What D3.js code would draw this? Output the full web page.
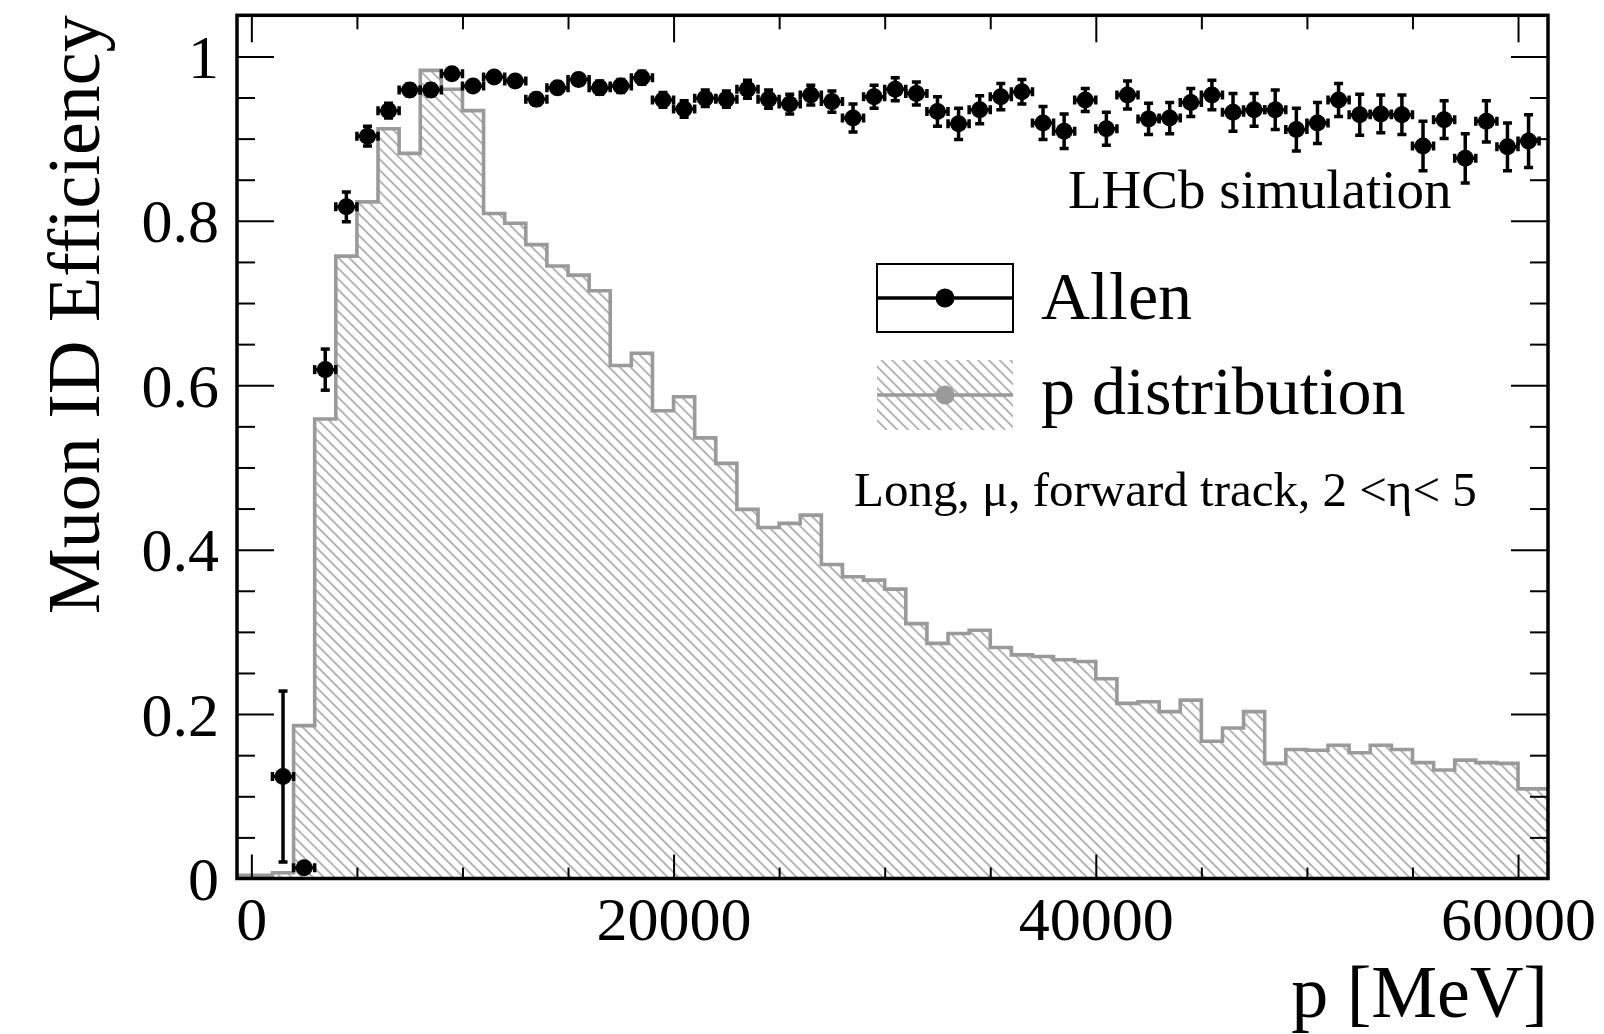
<!DOCTYPE html>
<html><head><meta charset="utf-8">
<script src="https://cdn.jsdelivr.net/npm/d3@7"></script>
<style>
html,body{margin:0;padding:0;background:#fff;}
svg{display:block;}
text{font-family:"Liberation Serif","Times New Roman",serif;fill:#000;}
</style></head><body>
<svg id="chart" width="1604" height="1034"></svg>
<script>
// ---------------- data ----------------
const binLowEdges = [-1000, 0, 1000, 2000, 3000, 4000, 5000, 6000, 7000, 8000, 9000,
  10000, 11000, 12000, 13000, 14000, 15000, 16000, 17000, 18000, 19000,
  20000, 21000, 22000, 23000, 24000, 25000, 26000, 27000, 28000, 29000,
  30000, 31000, 32000, 33000, 34000, 35000, 36000, 37000, 38000, 39000,
  40000, 41000, 42000, 43000, 44000, 45000, 46000, 47000, 48000, 49000,
  50000, 51000, 52000, 53000, 54000, 55000, 56000, 57000, 58000, 59000,
  60000, 61000];
const binWidth = 1000;
const histValues = [0.004, 0.004, 0.007, 0.186, 0.559, 0.757, 0.823, 0.912, 0.882, 0.983, 0.960,
  0.934, 0.809, 0.797, 0.771, 0.745, 0.734, 0.715, 0.624, 0.639, 0.569,
  0.586, 0.536, 0.505, 0.449, 0.427, 0.432, 0.442, 0.382, 0.367, 0.363,
  0.352, 0.310, 0.286, 0.298, 0.302, 0.281, 0.272, 0.270, 0.266, 0.264,
  0.243, 0.213, 0.215, 0.203, 0.217, 0.167, 0.183, 0.203, 0.140, 0.157,
  0.156, 0.162, 0.153, 0.162, 0.157, 0.141, 0.132, 0.144, 0.141, 0.140,
  0.109, 0.109];

const effMomenta = [1500, 2500, 3500, 4500, 5500, 6500, 7500, 8500, 9500, 10500,
  11500, 12500, 13500, 14500, 15500, 16500, 17500, 18500, 19500, 20500,
  21500, 22500, 23500, 24500, 25500, 26500, 27500, 28500, 29500, 30500,
  31500, 32500, 33500, 34500, 35500, 36500, 37500, 38500, 39500, 40500,
  41500, 42500, 43500, 44500, 45500, 46500, 47500, 48500, 49500, 50500,
  51500, 52500, 53500, 54500, 55500, 56500, 57500, 58500, 59500, 60500];
const effValues = [0.124, 0.013, 0.619, 0.817, 0.903, 0.934, 0.959, 0.959, 0.979, 0.964,
  0.975, 0.970, 0.948, 0.962, 0.972, 0.962, 0.964, 0.974, 0.947, 0.936,
  0.949, 0.948, 0.960, 0.948, 0.942, 0.953, 0.945, 0.925, 0.951, 0.960,
  0.955, 0.933, 0.918, 0.935, 0.951, 0.957, 0.919, 0.909, 0.947, 0.912,
  0.953, 0.924, 0.925, 0.944, 0.953, 0.932, 0.935, 0.935, 0.911, 0.919,
  0.947, 0.929, 0.930, 0.929, 0.891, 0.923, 0.876, 0.921, 0.890, 0.897];
const effErrors = [0.104, 0.004, 0.025, 0.018, 0.012, 0.009, 0.007, 0.007, 0.006, 0.006,
  0.006, 0.006, 0.007, 0.007, 0.007, 0.008, 0.008, 0.008, 0.009, 0.010,
  0.010, 0.010, 0.011, 0.011, 0.012, 0.012, 0.013, 0.017, 0.014, 0.014,
  0.014, 0.018, 0.019, 0.017, 0.016, 0.015, 0.020, 0.021, 0.014, 0.020,
  0.017, 0.019, 0.019, 0.017, 0.018, 0.023, 0.020, 0.024, 0.026, 0.025,
  0.020, 0.025, 0.023, 0.024, 0.030, 0.023, 0.030, 0.025, 0.029, 0.032];

const xMajorTicks = [0, 20000, 40000, 60000];
const xMajorLabels = ["0", "20000", "40000", "60000"];
const xMinorTicks = [5000, 10000, 15000, 25000, 30000, 35000, 45000, 50000, 55000];
const yMajorTicks = [0, 0.2, 0.4, 0.6, 0.8, 1];
const yMajorLabels = ["0", "0.2", "0.4", "0.6", "0.8", "1"];
const yMinorTicks = [0.05, 0.1, 0.15, 0.25, 0.3, 0.35, 0.45, 0.5, 0.55, 0.65, 0.7, 0.75, 0.85, 0.9, 0.95];

const seriesNames = ["Allen", "p distribution"];
const xTitle = "p [MeV]";
const yTitle = "Muon ID Efficiency";
const labelSim = "LHCb simulation";
const labelCuts = "Long, \u03bc, forward track, 2 <\u03b7< 5";

// ---------------- layout ----------------
const plot = {left: 237, right: 1548, top: 15.3, bottom: 878.5};
const histColor = "#9a9a9a";
const svg = d3.select("#chart");

const x = d3.scaleLinear().domain([-680, 61420]).range([plot.left, plot.right]);
const y = d3.scaleLinear().domain([0, 1.05]).range([plot.bottom, plot.top]);

const defs = svg.append("defs");
defs.append("clipPath").attr("id", "plotclip").append("rect")
  .attr("x", plot.left).attr("y", plot.top)
  .attr("width", plot.right - plot.left).attr("height", plot.bottom - plot.top);
const pat = defs.append("pattern").attr("id", "hatch")
  .attr("patternUnits", "userSpaceOnUse").attr("width", 7.6).attr("height", 7.6)
  .attr("patternTransform", "rotate(-45)");
pat.append("line").attr("x1", 3.8).attr("y1", -1).attr("x2", 3.8).attr("y2", 8.6)
  .attr("stroke", "#b2b2b2").attr("stroke-width", 1)
  .attr("shape-rendering", "crispEdges");

svg.append("rect").attr("width", 1604).attr("height", 1034).attr("fill", "#fff");

// ---------------- histogram ----------------
const histData = binLowEdges.map((lo, i) => ({lo: lo, v: histValues[i]}));
histData.push({lo: binLowEdges[binLowEdges.length - 1] + binWidth, v: histValues[histValues.length - 1]});

const gPlot = svg.append("g").attr("clip-path", "url(#plotclip)");
gPlot.append("path").datum(histData)
  .attr("d", d3.area().x(d => x(d.lo)).y0(y(0)).y1(d => y(d.v)).curve(d3.curveStepAfter))
  .attr("fill", "url(#hatch)");
gPlot.append("path").datum(histData)
  .attr("d", d3.line().x(d => x(d.lo)).y(d => y(d.v)).curve(d3.curveStepAfter))
  .attr("fill", "none").attr("stroke", histColor).attr("stroke-width", 3.6);

// ---------------- efficiency points ----------------
const effData = effMomenta.map((p, i) => ({p: p, v: effValues[i], e: effErrors[i]}));
const cap = 4.5, lw = 3.5, mr = 8.5;
const pts = gPlot.append("g").selectAll("g").data(effData).join("g");
pts.append("line").attr("x1", d => x(d.p)).attr("x2", d => x(d.p))
  .attr("y1", d => y(d.v - d.e)).attr("y2", d => y(d.v + d.e))
  .attr("stroke", "#000").attr("stroke-width", lw);
pts.append("line").attr("x1", d => x(d.p) - cap).attr("x2", d => x(d.p) + cap)
  .attr("y1", d => y(d.v + d.e)).attr("y2", d => y(d.v + d.e))
  .attr("stroke", "#000").attr("stroke-width", lw);
pts.append("line").attr("x1", d => x(d.p) - cap).attr("x2", d => x(d.p) + cap)
  .attr("y1", d => y(d.v - d.e)).attr("y2", d => y(d.v - d.e))
  .attr("stroke", "#000").attr("stroke-width", lw);
pts.append("line").attr("x1", d => x(d.p - binWidth / 2)).attr("x2", d => x(d.p + binWidth / 2))
  .attr("y1", d => y(d.v)).attr("y2", d => y(d.v))
  .attr("stroke", "#000").attr("stroke-width", lw);
pts.append("line").attr("x1", d => x(d.p - binWidth / 2)).attr("x2", d => x(d.p - binWidth / 2))
  .attr("y1", d => y(d.v) - cap).attr("y2", d => y(d.v) + cap)
  .attr("stroke", "#000").attr("stroke-width", lw);
pts.append("line").attr("x1", d => x(d.p + binWidth / 2)).attr("x2", d => x(d.p + binWidth / 2))
  .attr("y1", d => y(d.v) - cap).attr("y2", d => y(d.v) + cap)
  .attr("stroke", "#000").attr("stroke-width", lw);
pts.append("circle").attr("cx", d => x(d.p)).attr("cy", d => y(d.v)).attr("r", mr).attr("fill", "#000");

// ---------------- axes ----------------
function styleAxis(g) {
  g.select(".domain").remove();
  g.selectAll(".tick line").attr("stroke", "#000").attr("stroke-width", 2);
}
const gxB = svg.append("g").attr("transform", `translate(0,${plot.bottom})`)
  .call(d3.axisBottom(x).tickValues(xMajorTicks).tickSize(-24).tickFormat((d, i) => xMajorLabels[i]));
styleAxis(gxB);
gxB.selectAll("text").attr("y", 61.5).attr("dy", null).style("font-size", "62px")
  .style("font-family", "Liberation Serif");
svg.append("g").attr("transform", `translate(0,${plot.bottom})`)
  .call(d3.axisBottom(x).tickValues(xMinorTicks).tickSize(-11).tickFormat(() => "")).call(styleAxis);
svg.append("g").attr("transform", `translate(0,${plot.top})`)
  .call(d3.axisTop(x).tickValues(xMajorTicks).tickSize(-27).tickFormat(() => "")).call(styleAxis);
svg.append("g").attr("transform", `translate(0,${plot.top})`)
  .call(d3.axisTop(x).tickValues(xMinorTicks).tickSize(-14).tickFormat(() => "")).call(styleAxis);

const gyL = svg.append("g").attr("transform", `translate(${plot.left},0)`)
  .call(d3.axisLeft(y).tickValues(yMajorTicks).tickSize(-37).tickFormat((d, i) => yMajorLabels[i]));
styleAxis(gyL);
gyL.selectAll("text").attr("x", -18).attr("y", 21).attr("dy", null).style("font-size", "62px")
  .style("font-family", "Liberation Serif");
svg.append("g").attr("transform", `translate(${plot.left},0)`)
  .call(d3.axisLeft(y).tickValues(yMinorTicks).tickSize(-18).tickFormat(() => "")).call(styleAxis);
svg.append("g").attr("transform", `translate(${plot.right},0)`)
  .call(d3.axisRight(y).tickValues(yMajorTicks).tickSize(-37).tickFormat(() => "")).call(styleAxis);
svg.append("g").attr("transform", `translate(${plot.right},0)`)
  .call(d3.axisRight(y).tickValues(yMinorTicks).tickSize(-18).tickFormat(() => "")).call(styleAxis);

// frame
svg.append("rect").attr("x", plot.left).attr("y", plot.top)
  .attr("width", plot.right - plot.left).attr("height", plot.bottom - plot.top)
  .attr("fill", "none").attr("stroke", "#000").attr("stroke-width", 3.5);

// ---------------- titles ----------------
svg.append("text").attr("transform", `translate(99,${plot.top}) rotate(-90)`)
  .attr("text-anchor", "end").style("font-size", "74px").text(yTitle);
svg.append("text").attr("x", plot.right).attr("y", 1017)
  .attr("text-anchor", "end").style("font-size", "74px").text(xTitle);

svg.append("text").attr("x", 1068).attr("y", 208).style("font-size", "55px").text(labelSim);
svg.append("text").attr("x", 854).attr("y", 506).style("font-size", "49px").text(labelCuts);

// ---------------- legend ----------------
const leg = svg.append("g");
leg.append("rect").attr("x", 877).attr("y", 264).attr("width", 136).attr("height", 68)
  .attr("fill", "#fff").attr("stroke", "#000").attr("stroke-width", 2);
leg.append("line").attr("x1", 877).attr("x2", 1013).attr("y1", 298).attr("y2", 298)
  .attr("stroke", "#000").attr("stroke-width", 3.4);
leg.append("circle").attr("cx", 945).attr("cy", 298).attr("r", 9.5).attr("fill", "#000");
leg.append("text").attr("x", 1041).attr("y", 319).style("font-size", "68px").text(seriesNames[0]);

leg.append("rect").attr("x", 877).attr("y", 360).attr("width", 136).attr("height", 70)
  .attr("fill", "url(#hatch)");
leg.append("line").attr("x1", 877).attr("x2", 1013).attr("y1", 395).attr("y2", 395)
  .attr("stroke", histColor).attr("stroke-width", 3.4);
leg.append("circle").attr("cx", 945).attr("cy", 395).attr("r", 9.5).attr("fill", histColor);
leg.append("text").attr("x", 1041).attr("y", 414).style("font-size", "68px").text(seriesNames[1]);
</script>
</body></html>
